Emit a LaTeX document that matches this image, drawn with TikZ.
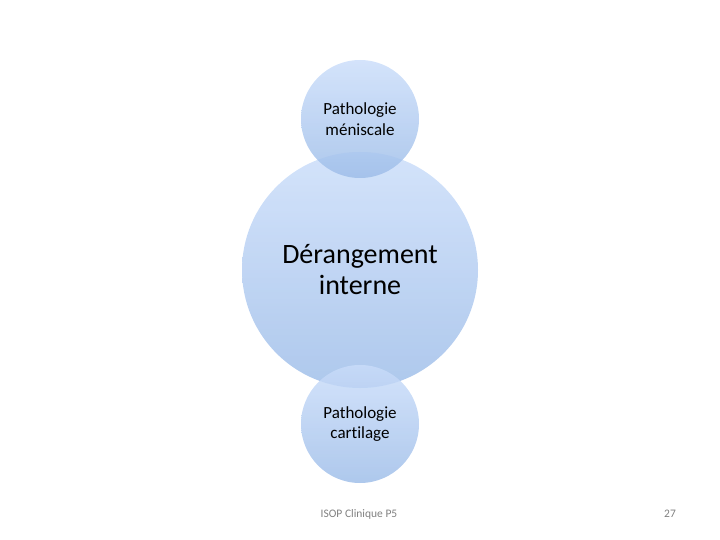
\documentclass[tikz,border=0pt]{standalone}
\usepackage{fontspec}
\setmainfont{Carlito}[Ligatures={NoCommon}]
\usepackage{tikz}
\usetikzlibrary{positioning}
\definecolor{bleuhaut}{HTML}{CADDFA}
\definecolor{bleubas}{HTML}{9CBCE8}
\definecolor{gris}{HTML}{808080}

\begin{document}
\begin{tikzpicture}[x=1pt,y=-1pt,
  bulle/.style={circle,top color=bleuhaut,bottom color=bleubas,fill opacity=0.82,text opacity=1,align=center,inner sep=0pt},
  petite/.style={bulle,minimum size=118pt,font=\fontsize{17}{20.5}\selectfont},
  grande/.style={bulle,minimum size=236pt,font=\fontsize{28}{31}\selectfont},
  pied/.style={text=gris,font=\fontsize{11.5}{13}\selectfont}]
\useasboundingbox (0,0) rectangle (720,540);
\node[grande] (derangement) at (360,270) {Dérangement\\interne};
\node[petite] (menisque) at (360,119) {Pathologie\\méniscale};
\node[petite] (cartilage) at (360,424) {Pathologie\\cartilage};
\node[pied] (source) at (359,514) {ISOP Clinique P5};
\node[pied] (page) at (670,514) {27};
\end{tikzpicture}
\end{document}
